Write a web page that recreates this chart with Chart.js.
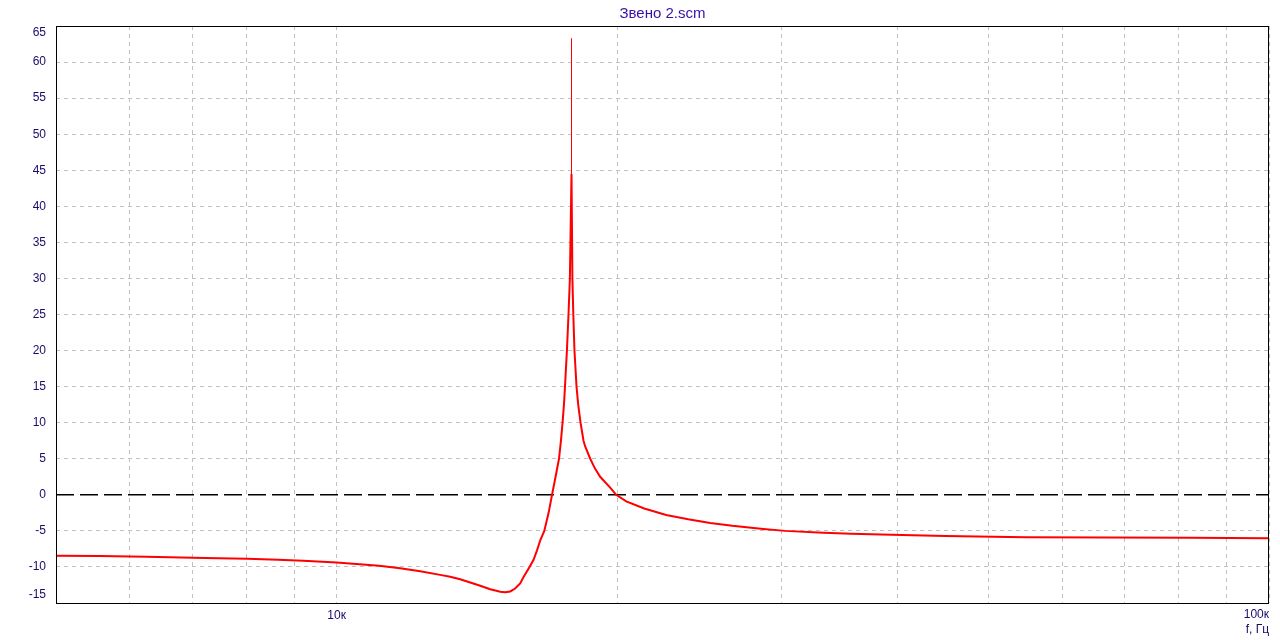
<!DOCTYPE html>
<html><head><meta charset="utf-8">
<script src="https://cdn.jsdelivr.net/npm/chart.js@4.4.1/dist/chart.umd.min.js"></script>
<style>html,body{margin:0;padding:0;background:#fff;overflow:hidden}#wrap{width:1280px;height:640px}</style>
</head><body><div id="wrap"><canvas id="c" width="1280" height="640"></canvas></div>
<script>
// ---- data ----
const chartTitle = 'Звено 2.scm';
const xAxisTitle = 'f, Гц';
const freqHz = [5000, 5573, 6245, 7226, 8016, 8653, 9204, 10000, 10494, 11108, 11699, 12290, 12912, 13237, 13567, 13908, 14255, 14613, 14978, 15165, 15351, 15540, 15733, 15866, 16102, 16262, 16402, 16534, 16699, 16878, 17021, 17171, 17317, 17401, 17470, 17530, 17575, 17659, 17728, 17789, 17860, 17900, 17940, 17991, 18083, 18158, 18263, 18398, 18474, 18705, 18935, 19171, 19650, 19946, 20446, 21375, 22566, 23826, 25155, 26563, 28681, 30274, 33264, 35643, 39353, 44974, 54790, 82365, 100000];
const gainDb = [-8.46, -8.5, -8.6, -8.75, -8.88, -9.0, -9.15, -9.4, -9.6, -9.85, -10.17, -10.6, -11.1, -11.35, -11.7, -12.15, -12.6, -13.1, -13.45, -13.5, -13.4, -13.0, -12.3, -11.4, -10.0, -9.0, -7.7, -6.3, -5.0, -2.5, 0, 2.5, 5, 7.5, 10, 12.5, 15, 20, 25, 30, 44.5, 30, 25, 20, 15, 12.5, 10, 7.5, 6.7, 5.0, 3.6, 2.5, 1.0, 0, -0.9, -1.9, -2.8, -3.4, -3.9, -4.3, -4.75, -5.0, -5.25, -5.4, -5.55, -5.72, -5.87, -5.97, -6.03];
const spikeFreqHz = [17860, 17860];
const spikeDb = [44.5, 63.3];
const zeroFreqHz = [5000, 100000];
const zeroDb = [0, 0];
const gridFreqHz = [5000, 6000, 7000, 8000, 9000, 10000, 20000, 30000, 40000, 50000, 60000, 70000, 80000, 90000, 100000];
const xLabelFreqHz = [10000, 100000];
const xLabelText = ['10к', '100к'];
const yMin = -15, yMax = 65, yStep = 5;

const toPts = (xs, ys) => xs.map((x, i) => ({x: x, y: ys[i]}));
const labelFont = '12px "Liberation Sans", Arial, sans-serif';
const labelColor = '#1a0a6a';

const overlay = {
  id: 'overlay',
  afterDraw(chart) {
    const ctx = chart.ctx, a = chart.chartArea;
    const xs = chart.scales.x, ys = chart.scales.y;
    ctx.save();
    // frame
    ctx.strokeStyle = '#000';
    ctx.lineWidth = 1;
    ctx.setLineDash([]);
    ctx.strokeRect(a.left + 0.5, a.top + 0.5, a.right - a.left - 1, a.bottom - a.top);
    // title
    ctx.fillStyle = '#3a10a8';
    ctx.font = '15px "Liberation Sans", Arial, sans-serif';
    ctx.textAlign = 'center';
    ctx.textBaseline = 'middle';
    ctx.fillText(chartTitle, (a.left + a.right) / 2, 14);
    // y labels
    ctx.font = labelFont;
    ctx.fillStyle = labelColor;
    ctx.textAlign = 'right';
    ys.ticks.forEach(t => {
      let y = ys.getPixelForValue(t.value);
      y = Math.min(Math.max(y, a.top + 7), a.bottom - 8);
      ctx.fillText(String(t.value), a.left - 10, y);
    });
    // x labels
    xLabelFreqHz.forEach((f, i) => {
      const x = xs.getPixelForValue(f);
      if (x >= a.right - 2) { ctx.textAlign = 'right'; ctx.fillText(xLabelText[i], a.right, 615); }
      else { ctx.textAlign = 'center'; ctx.fillText(xLabelText[i], x, 616); }
    });
    ctx.textAlign = 'right';
    ctx.fillText(xAxisTitle, a.right, 630);
    ctx.restore();
  }
};

new Chart(document.getElementById('c'), {
  type: 'line',
  data: {
    datasets: [
      {label: 'gain', data: toPts(freqHz, gainDb), borderColor: '#ff0000', borderWidth: 2, pointRadius: 0, tension: 0, fill: false},
      {label: 'spike', data: toPts(spikeFreqHz, spikeDb), borderColor: '#ff0000', borderWidth: 1, pointRadius: 0, tension: 0, fill: false},
      {label: 'zero', data: toPts(zeroFreqHz, zeroDb), borderColor: '#000000', borderWidth: 1.5, borderDash: [18, 6], pointRadius: 0, tension: 0, fill: false}
    ]
  },
  options: {
    responsive: false,
    animation: false,
    devicePixelRatio: 1,
    layout: {padding: {left: 0, right: 11, top: 26, bottom: 0}},
    plugins: {legend: {display: false}, title: {display: false}, tooltip: {enabled: false}},
    scales: {
      x: {
        type: 'logarithmic', min: 5000, max: 100000,
        afterBuildTicks: s => { s.ticks = gridFreqHz.map(v => ({value: v})); },
        afterFit: s => { s.height = 37; },
        ticks: {display: false},
        grid: {color: '#c0c0c0', lineWidth: 1, drawTicks: false},
        border: {display: false, dash: [4, 4]}
      },
      y: {
        type: 'linear', min: yMin, max: yMax,
        ticks: {display: false, stepSize: yStep},
        afterFit: s => { s.width = 56; },
        grid: {color: c => (c.tick && c.tick.value === 0) ? 'rgba(0,0,0,0)' : '#c0c0c0', lineWidth: 1, drawTicks: false},
        border: {display: false, dash: [4, 4]}
      }
    }
  },
  plugins: [overlay]
});
</script></body></html>
